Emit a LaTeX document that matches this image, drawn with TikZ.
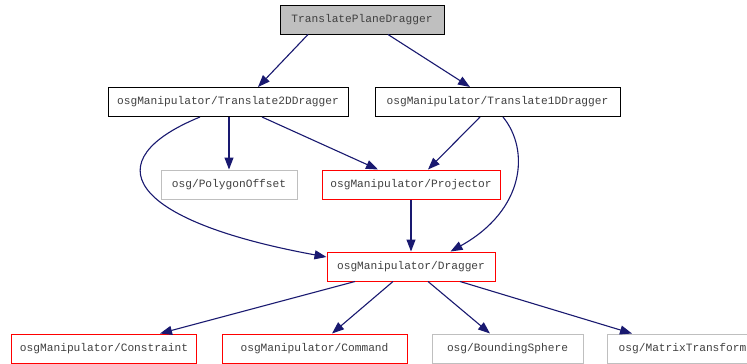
\documentclass[tikz,border=0pt]{standalone}
\usepackage{fontspec}
\setmonofont{Liberation Mono}
\usetikzlibrary{arrows.meta}
\definecolor{edgeblue}{RGB}{25,25,112}
\definecolor{boxred}{RGB}{255,0,0}
\definecolor{boxgray}{RGB}{191,191,191}
\definecolor{headgray}{RGB}{191,191,191}
\definecolor{labelgray}{RGB}{64,64,64}
\tikzset{
  cls/.style={draw, line width=1bp, inner sep=0pt, minimum height=29bp,
    text=labelgray, font=\ttfamily\fontsize{11.2bp}{13bp}\selectfont, fill=white},
  plain/.style={cls, draw=black},
  current/.style={cls, draw=black, fill=headgray},
  documented/.style={cls, draw=boxred},
  external/.style={cls, draw=boxgray},
  dep/.style={draw=edgeblue, line width=1.1bp,
    -{Triangle[length=12bp,width=9bp]}, fill=none},
}
\begin{document}
\begin{tikzpicture}[x=1bp, y=-1bp]
  \useasboundingbox (0,0) rectangle (747,363);
  \clip (0,0) rectangle (747,363);
  \fill[white] (0,0) rectangle (747,363);

  % class nodes
  \node[current, minimum width=164bp] (tpd) at (362,19.5) {TranslatePlaneDragger};
  \node[plain, minimum width=240bp] (t2d) at (228,102) {osgManipulator/Translate2DDragger};
  \node[plain, minimum width=245bp] (t1d) at (497.5,102) {osgManipulator/Translate1DDragger};
  \node[external, minimum width=136bp] (pgo) at (229,184.5) {osg/PolygonOffset};
  \node[documented, minimum width=178bp] (proj) at (411,184.5) {osgManipulator/Projector};
  \node[documented, minimum width=168bp] (drag) at (411,266.5) {osgManipulator/Dragger};
  \node[documented, minimum width=184bp] (cons) at (104,348.5) {osgManipulator/Constraint};
  \node[documented, minimum width=185bp] (cmd) at (314.5,348.5) {osgManipulator/Command};
  \node[external, minimum width=151bp] (bsph) at (507.5,348.5) {osg/BoundingSphere};
  \node[external, minimum width=151bp] (mtx) at (682.5,348.5) {osg/MatrixTransform};

  % dependencies
  \draw[dep] ([xshift=-54bp]tpd.south) -- ([xshift=30bp]t2d.north);
  \draw[dep] ([xshift=26bp]tpd.south) -- ([xshift=-27.5bp]t1d.north);
  \draw[dep] ([xshift=1bp]t2d.south) -- (pgo.north);
  \draw[dep] ([xshift=34bp]t2d.south) -- ([xshift=-33bp]proj.north);
  \draw[dep] ([xshift=-28bp]t2d.south) .. controls (95,160) and (125,220) .. ([yshift=9.5bp]drag.west);
  \draw[dep] ([xshift=-17.5bp]t1d.south) -- ([xshift=17bp]proj.north);
  \draw[dep] ([xshift=5.5bp]t1d.south) .. controls (530,150) and (525,210) .. ([xshift=39.5bp]drag.north);
  \draw[dep] (proj.south) -- (drag.north);
  \draw[dep] ([xshift=-56bp]drag.south) -- ([xshift=56bp]cons.north);
  \draw[dep] ([xshift=-18bp]drag.south) -- ([xshift=17.5bp]cmd.north);
  \draw[dep] ([xshift=17bp]drag.south) -- ([xshift=-17.5bp]bsph.north);
  \draw[dep] ([xshift=49bp]drag.south) -- ([xshift=-50.5bp]mtx.north);
\end{tikzpicture}
\end{document}
